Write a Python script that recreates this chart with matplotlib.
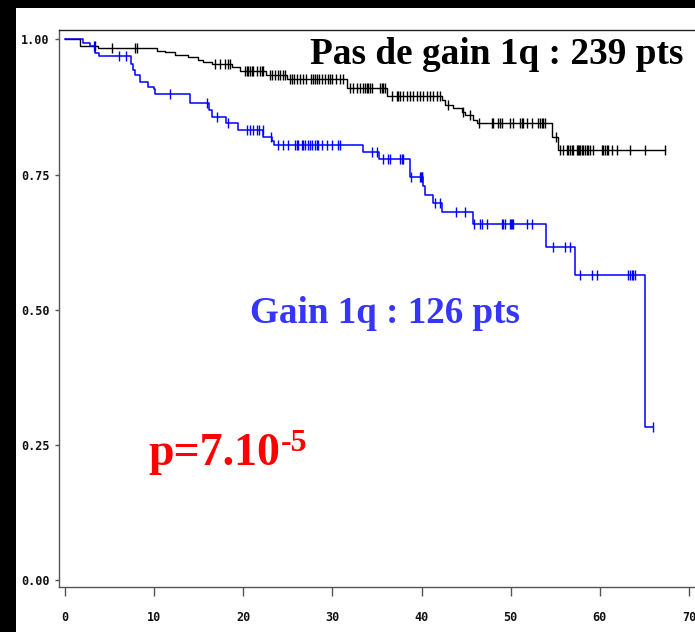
import numpy as np
import matplotlib
matplotlib.use("Agg")
import matplotlib.pyplot as plt
from matplotlib.patches import Rectangle

# Kaplan-Meier curve: "Gain 1q" group (event times and survival after each step)
gain_times = [0, 2.05, 2.8, 3.37, 3.85, 7.4, 7.66, 7.85, 8.41, 9.34, 9.98, 10.1,
              14.0, 16.15, 16.5, 18.1, 19.4, 22.25, 23.2, 23.45, 33.46, 35.2,
              38.7, 40.2, 40.4, 41.3, 42.3, 45.8, 53.97, 57.2, 65.07]
gain_surv = [1.0, 0.993, 0.988, 0.975, 0.969, 0.955, 0.944, 0.934, 0.922, 0.913,
             0.908, 0.899, 0.882, 0.870, 0.857, 0.8455, 0.8326, 0.8196, 0.813,
             0.804, 0.792, 0.778, 0.746, 0.729, 0.712, 0.697, 0.680, 0.658,
             0.617, 0.564, 0.2825]
gain_censor = [3.2, 6.06, 6.84, 11.78, 15.96, 17.0, 18.25, 20.38, 20.75, 21.12,
               21.5, 21.8, 22.18, 23.1, 23.9, 24.45, 25.0, 25.8, 26.03, 26.14,
               26.59, 26.7, 26.93, 27.26, 27.49, 27.71, 28.05, 28.27, 28.38,
               28.83, 29.4, 29.95, 30.63, 30.85, 34.4, 35.0, 35.67, 36.23, 36.46,
               37.58, 37.8, 37.92, 38.8, 39.8, 39.9, 40.0, 40.1, 41.5, 42.06,
               43.9, 44.87, 45.9, 46.56, 46.75, 47.31, 48.99, 49.17, 49.36,
               49.92, 50.03, 50.11, 50.22, 51.8, 52.36, 54.78, 56.09, 56.66,
               57.77, 59.09, 59.65, 63.19, 63.38, 63.57, 63.75, 63.94, 66.0]

# Kaplan-Meier curve: "Pas de gain 1q" group
nogain_times = [0, 1.68, 3.7, 10.3, 11.2, 12.3, 13.8, 14.9, 15.5, 16.5, 18.7,
                19.6, 22.6, 24.96, 31.6, 36.1, 42.26, 42.6, 43.5, 44.5, 44.9,
                45.8, 46.2, 54.6, 55.34]
nogain_surv = [1.0, 0.988, 0.984, 0.979, 0.976, 0.971, 0.967, 0.962, 0.958,
               0.955, 0.9486, 0.9423, 0.934, 0.926, 0.911, 0.896, 0.888, 0.879,
               0.873, 0.866, 0.860, 0.851, 0.845, 0.820, 0.796]
nogain_censor = [3.37, 5.24, 7.85, 8.04, 16.83, 17.39, 17.95, 18.32, 18.51,
                 20.19, 20.38, 20.57, 20.76, 20.95, 21.13, 21.51, 21.88, 22.07,
                 22.25, 23.0, 23.18, 23.55, 23.93, 24.12, 24.49, 24.68, 25.24,
                 25.47, 25.69, 26.03, 26.36, 26.7, 27.04, 27.6, 27.82, 28.04,
                 28.27, 28.49, 28.83, 29.16, 29.5, 29.72, 29.95, 30.4, 30.84,
                 31.19, 31.97, 32.35, 32.72, 33.09, 33.47, 33.66, 33.84, 34.03,
                 34.22, 34.4, 35.34, 35.53, 35.72, 35.9, 36.65, 37.21, 37.4,
                 37.58, 37.96, 38.33, 38.7, 39.08, 39.45, 39.83, 40.2, 40.58,
                 40.95, 41.32, 41.7, 42.07, 42.97, 44.65, 45.43, 46.49, 47.87,
                 48.05, 48.61, 48.8, 48.99, 49.92, 50.29, 51.04, 51.23, 51.42,
                 51.79, 52.35, 53.1, 53.29, 53.48, 53.66, 53.85, 55.08, 55.53,
                 55.9, 56.28, 56.46, 56.65, 56.84, 57.02, 57.4, 57.58, 57.69,
                 57.77, 57.96, 58.15, 58.34, 58.53, 58.71, 58.9, 59.27, 60.21,
                 60.4, 60.59, 60.77, 60.96, 61.34, 61.9, 63.39, 65.07, 67.31]

x_ticks = [0, 10, 20, 30, 40, 50, 60, 70]
y_ticks = [0.0, 0.25, 0.50, 0.75, 1.0]
y_tick_labels = ["0.00", "0.25", "0.50", "0.75", "1.00"]

label_nogain = "Pas de gain 1q : 239 pts"
label_gain = "Gain 1q : 126 pts"
pvalue_main = "p=7.10"
pvalue_exp = "-5"


def km_curve(times, surv, censor):
    """Return step arrays extended to the last follow-up and censor levels."""
    t = np.asarray(times, float)
    s = np.asarray(surv, float)
    c = np.asarray(censor, float)
    end = max(t[-1], c.max())
    t_full = np.append(t, end)
    s_full = np.append(s, s[-1])
    idx = np.searchsorted(t, c, side="right") - 1
    return t_full, s_full, c, s[idx]


W, H = 695, 632
fig = plt.figure(figsize=(W / 100, H / 100), dpi=100, facecolor="black")
fig.add_artist(Rectangle((16 / W, 0), (W - 16) / W, (H - 8) / H,
                         transform=fig.transFigure, facecolor="white",
                         edgecolor="none", zorder=-10))

ax = fig.add_axes([59 / W, 1 - 587 / H, (W - 59) / W, (587 - 30) / H])
ax.set_facecolor("white")

for times, surv, cens, color, lw in [
        (nogain_times, nogain_surv, nogain_censor, "black", 1.0),
        (gain_times, gain_surv, gain_censor, "#0000ff", 1.1)]:
    tt, ss, cx, cy = km_curve(times, surv, cens)
    ax.step(tt, ss, where="post", color=color, lw=lw, zorder=3)
    ax.plot(cx, cy, linestyle="none", marker="|", markersize=7.5,
            markeredgewidth=1.0, color=color, zorder=4)

ax.set_xlim(-0.673, 70.675)
ax.set_ylim(-0.01295, 1.01757)

ax.set_xticks(x_ticks)
ax.set_xticklabels([str(v) for v in x_ticks])
ax.set_yticks(y_ticks)
ax.set_yticklabels(y_tick_labels)

for lab in ax.get_xticklabels() + ax.get_yticklabels():
    lab.set_fontfamily("DejaVu Sans Mono")
    lab.set_fontweight("bold")
    lab.set_fontsize(8.5)
    lab.set_color("#111111")

ax.tick_params(axis="x", direction="out", length=6.5, width=1.0,
               color="#555555", pad=11)
ax.tick_params(axis="y", direction="out", length=3.2, width=1.0,
               color="#555555", pad=3.5)

for side in ["left", "bottom"]:
    ax.spines[side].set_color("#555555")
    ax.spines[side].set_linewidth(1.0)
ax.spines["top"].set_color("#222222")
ax.spines["top"].set_linewidth(1.0)
ax.spines["right"].set_visible(False)

serif = ["Liberation Serif", "DejaVu Serif"]
ax.text(69.33, 0.9547, label_nogain, ha="right", va="baseline",
        family=serif, weight="bold", size=26.8, color="black", zorder=5)
ax.text(20.75, 0.476, label_gain, ha="left", va="baseline",
        family=serif, weight="bold", size=26.7, color="#3535fb", zorder=5)
ptxt = ax.text(9.31, 0.2128, pvalue_main, ha="left", va="baseline",
               family=serif, weight="bold", size=33, color="#ff0000", zorder=5)
ax.annotate(pvalue_exp, xy=(1.0, 0.56), xycoords=ptxt, xytext=(0.5, 0),
            textcoords="offset points", ha="left", va="baseline",
            family=serif, weight="bold", size=23, color="#ff0000", zorder=5)

fig.savefig("out.png", dpi=100, facecolor=fig.get_facecolor())
